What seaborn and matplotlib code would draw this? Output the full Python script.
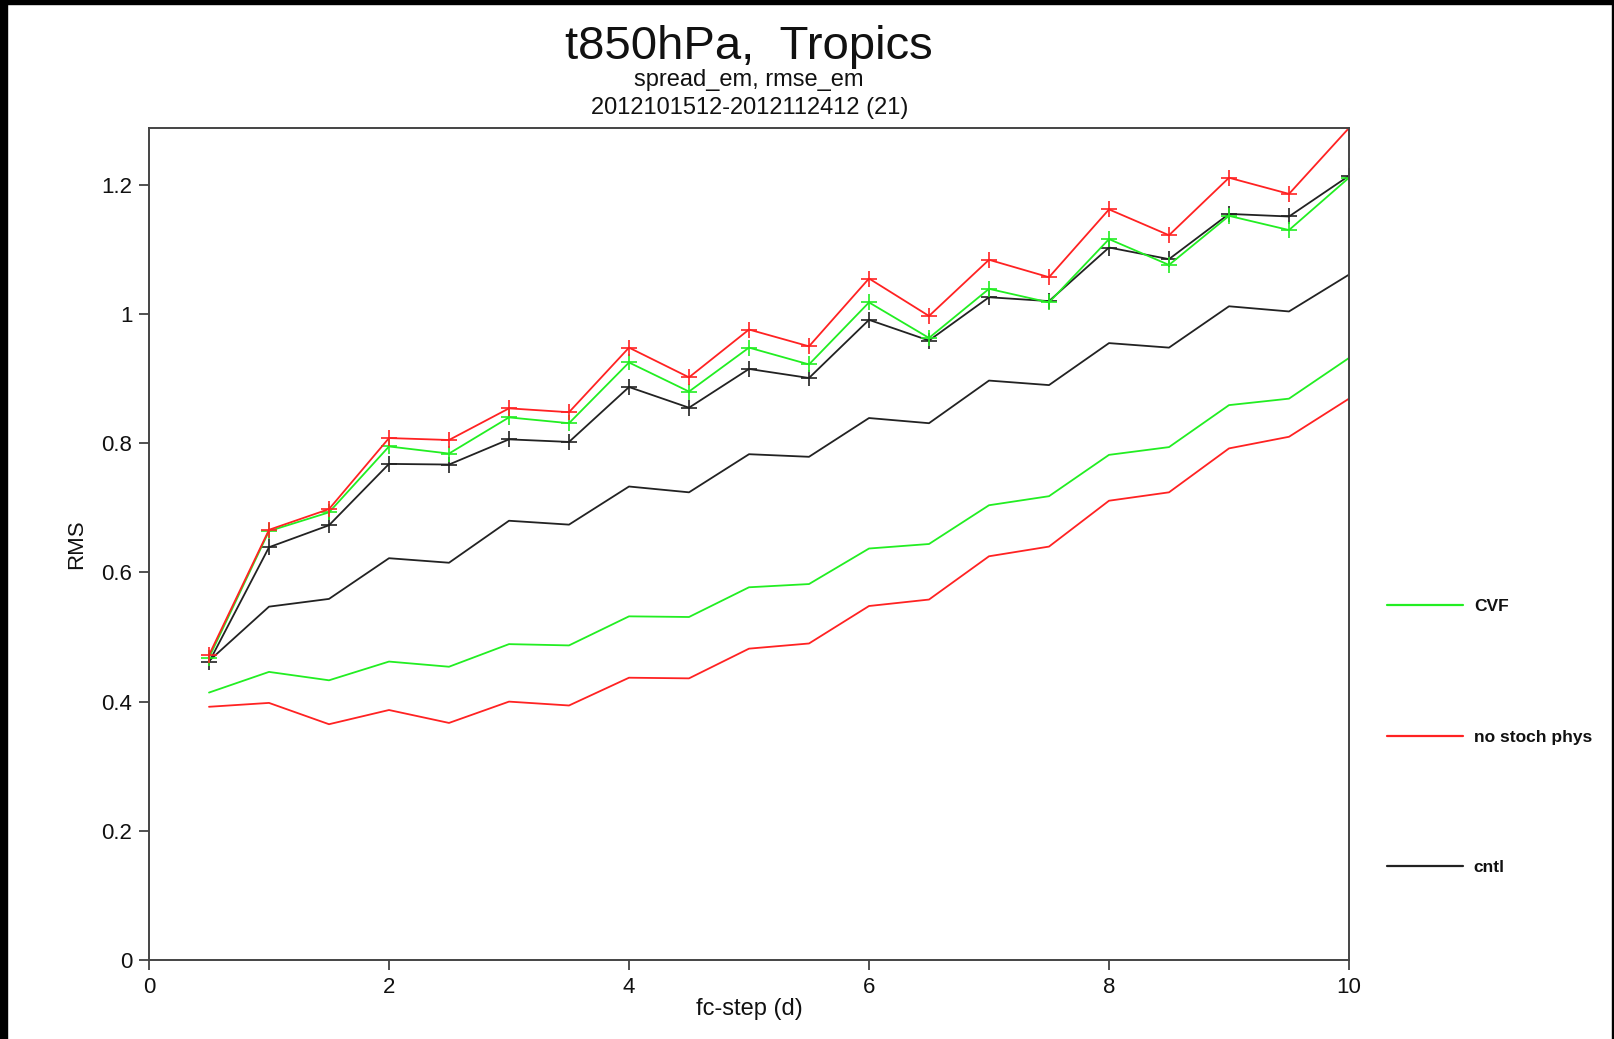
import numpy as np
import pandas as pd
import matplotlib
matplotlib.use("Agg")
import matplotlib.pyplot as plt
import seaborn as sns
from matplotlib.lines import Line2D
from matplotlib.patches import Rectangle

# forecast step in days
fc_step = [0.5, 1.0, 1.5, 2.0, 2.5, 3.0, 3.5, 4.0, 4.5, 5.0,
           5.5, 6.0, 6.5, 7.0, 7.5, 8.0, 8.5, 9.0, 9.5, 10.0]

# ensemble-mean RMSE (drawn with + markers)
rmse_cvf = [0.468, 0.664, 0.693, 0.795, 0.784, 0.840, 0.831, 0.925, 0.880, 0.948,
            0.922, 1.018, 0.963, 1.039, 1.018, 1.116, 1.076, 1.152, 1.130, 1.211]
rmse_nostoch = [0.472, 0.666, 0.698, 0.808, 0.805, 0.854, 0.848, 0.948, 0.902, 0.976,
                0.950, 1.055, 0.997, 1.084, 1.057, 1.162, 1.122, 1.211, 1.186, 1.288]
rmse_cntl = [0.461, 0.639, 0.673, 0.768, 0.767, 0.806, 0.802, 0.887, 0.855, 0.915,
             0.901, 0.991, 0.959, 1.026, 1.020, 1.103, 1.085, 1.155, 1.151, 1.214]

# ensemble spread (plain lines)
spread_cvf = [0.414, 0.446, 0.433, 0.462, 0.454, 0.489, 0.487, 0.532, 0.531, 0.577,
              0.582, 0.637, 0.644, 0.704, 0.718, 0.782, 0.794, 0.859, 0.869, 0.932]
spread_nostoch = [0.392, 0.398, 0.365, 0.387, 0.367, 0.400, 0.394, 0.437, 0.436, 0.482,
                  0.490, 0.548, 0.558, 0.625, 0.640, 0.711, 0.724, 0.792, 0.810, 0.869]
spread_cntl = [0.463, 0.547, 0.559, 0.622, 0.615, 0.680, 0.674, 0.733, 0.724, 0.783,
               0.779, 0.839, 0.831, 0.897, 0.890, 0.955, 0.948, 1.012, 1.004, 1.061]

experiments = ["CVF", "no stoch phys", "cntl"]
colors = {"CVF": "#22ee22", "no stoch phys": "#ff2222", "cntl": "#222222"}

rmse = {"CVF": rmse_cvf, "no stoch phys": rmse_nostoch, "cntl": rmse_cntl}
spread = {"CVF": spread_cvf, "no stoch phys": spread_nostoch, "cntl": spread_cntl}

sns.set_theme(style="white")
plt.rcParams["font.family"] = ["Liberation Sans", "DejaVu Sans"]

fig = plt.figure(figsize=(16.14, 10.39), dpi=100)
fig.patch.set_facecolor("white")
ax = fig.add_axes([149 / 1614, 1 - 960 / 1039, 1200 / 1614, 832 / 1039])

# spread lines first, then RMSE with markers
for exp in ["cntl", "CVF", "no stoch phys"]:
    df = pd.DataFrame({"step": fc_step, "val": spread[exp]})
    sns.lineplot(data=df, x="step", y="val", ax=ax, color=colors[exp],
                 linewidth=1.3, legend=False)
for exp in ["cntl", "CVF", "no stoch phys"]:
    df = pd.DataFrame({"step": fc_step, "val": rmse[exp]})
    sns.lineplot(data=df, x="step", y="val", ax=ax, color=colors[exp],
                 linewidth=1.3, marker="+", markersize=12, markeredgewidth=1.2,
                 markeredgecolor=colors[exp], legend=False)

ymax = max(max(rmse_nostoch), max(rmse_cvf), max(rmse_cntl))
ax.set_xlim(0, 10)
ax.set_ylim(0, ymax)
ax.set_xticks([0, 2, 4, 6, 8, 10])
ax.set_xticklabels(["0", "2", "4", "6", "8", "10"])
ax.set_yticks([0, 0.2, 0.4, 0.6, 0.8, 1.0, 1.2])
ax.set_yticklabels(["0", "0.2", "0.4", "0.6", "0.8", "1", "1.2"])
ax.tick_params(axis="both", direction="out", length=7, width=1.2,
               colors="#333333", labelsize=16, labelcolor="#111111", pad=5,
               bottom=True, left=True)
for sp in ax.spines.values():
    sp.set_color("#444444")
    sp.set_linewidth(1.4)

ax.set_xlabel("fc-step (d)", fontsize=17, color="#111111", labelpad=0.5)
ax.set_ylabel("RMS", fontsize=16, color="#111111", labelpad=10)

# titles
fig.text(0.4642, 1 - 59 / 1039, "t850hPa,  Tropics", ha="center", va="baseline",
         fontsize=34, color="#111111")
fig.text(0.4642, 1 - 86 / 1039, "spread_em, rmse_em", ha="center", va="baseline",
         fontsize=17, color="#111111")
fig.text(0.4642, 1 - 114 / 1039, "2012101512-2012112412 (21)", ha="center",
         va="baseline", fontsize=17, color="#111111")

# legend outside on the right
handles = [Line2D([0], [0], color=colors[e], linewidth=1.6) for e in experiments]
leg = fig.legend(handles, experiments, loc="upper left",
                 bbox_to_anchor=(1387 / 1614, 1 - 599 / 1039),
                 bbox_transform=fig.transFigure, frameon=False,
                 borderpad=0, borderaxespad=0, handlelength=4.4,
                 handletextpad=0.6, labelspacing=6.65,
                 prop={"weight": "bold", "size": 12.5})
for t in leg.get_texts():
    t.set_color("#111111")

# dark frame around the picture
fig.patches.append(Rectangle((0, 1 - 4 / 1039), 1, 4 / 1039, transform=fig.transFigure,
                             color="black", zorder=10))
fig.patches.append(Rectangle((0, 0), 7 / 1614, 1, transform=fig.transFigure,
                             color="black", zorder=10))
fig.patches.append(Rectangle((1 - 2 / 1614, 0), 2 / 1614, 1, transform=fig.transFigure,
                             color="black", zorder=10))

fig.savefig("out.png", dpi=100, facecolor="white")
